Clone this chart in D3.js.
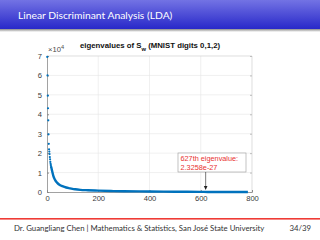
<!DOCTYPE html>
<html>
<head>
<meta charset="utf-8">
<script src="https://cdn.jsdelivr.net/npm/d3@7"></script>
<style>
  body { margin: 0; background: #fff; }
  svg { display: block; }
</style>
</head>
<body>
<svg id="slide" width="320" height="240"></svg>
<script>
// eigenvalue index (1-based) and value (x 1e4)
var eigIndex = [1, 2, 3, 4, 5, 6, 7, 8, 9, 10, 11, 12, 13, 14, 15, 16, 18, 20, 25, 30, 40, 50, 60, 75, 90, 110, 130, 160, 200, 250, 300, 400, 500, 600, 627, 700, 784];
var eigValue = [6.95, 6.0, 4.96, 4.31, 3.69, 2.97, 2.48, 2.2, 2.08, 1.95, 1.8, 1.68, 1.55, 1.45, 1.38, 1.3, 1.2, 1.08, 0.82, 0.66, 0.47, 0.36, 0.3, 0.23, 0.19, 0.14, 0.11, 0.09, 0.07, 0.05, 0.04, 0.025, 0.015, 0.008, 0.0, 0.0, 0.0];
var dotCount = 16; // first few are separate markers, rest merge into a line
var xTicks = [0, 200, 400, 600, 800];
var yTicks = [0, 1, 2, 3, 4, 5, 6, 7];

var svg = d3.select("#slide");

// header bar
var defs = svg.append("defs");
var grad = defs.append("linearGradient").attr("id", "hdr").attr("x1", 0).attr("y1", 0).attr("x2", 0).attr("y2", 1);
grad.append("stop").attr("offset", "0%").attr("stop-color", "#7373e4");
grad.append("stop").attr("offset", "100%").attr("stop-color", "#2828c9");
var shad = defs.append("linearGradient").attr("id", "shad").attr("x1", 0).attr("y1", 0).attr("x2", 0).attr("y2", 1);
shad.append("stop").attr("offset", "0%").attr("stop-color", "#8a8a8a");
shad.append("stop").attr("offset", "100%").attr("stop-color", "#ffffff");

svg.append("rect").attr("x", 0).attr("y", 0).attr("width", 320).attr("height", 29).attr("fill", "url(#hdr)");
svg.append("rect").attr("x", 0).attr("y", 29).attr("width", 320).attr("height", 3).attr("fill", "url(#shad)");
svg.append("text").attr("x", 18).attr("y", 19)
    .attr("font-family", "Lato, 'DejaVu Sans', sans-serif").attr("font-size", 10.3)
    .attr("fill", "#ffffff").text("Linear Discriminant Analysis (LDA)");

// chart
var margin = {left: 47, right: 252, top: 56, bottom: 192};
var x = d3.scaleLinear().domain([0, 800]).range([margin.left, margin.right]);
var y = d3.scaleLinear().domain([0, 7]).range([margin.bottom, margin.top]);

var g = svg.append("g").attr("font-family", "'Liberation Sans', Arial, sans-serif");

// grid
g.selectAll(".gx").data(xTicks.slice(1, -1)).enter().append("line")
    .attr("x1", d => x(d)).attr("x2", d => x(d))
    .attr("y1", margin.top).attr("y2", margin.bottom)
    .attr("stroke", "#e6e6e6").attr("stroke-width", 0.6);
g.selectAll(".gy").data(yTicks.slice(1, -1)).enter().append("line")
    .attr("x1", margin.left).attr("x2", margin.right)
    .attr("y1", d => y(d)).attr("y2", d => y(d))
    .attr("stroke", "#e6e6e6").attr("stroke-width", 0.6);

// box (top/right)
g.append("path")
    .attr("d", "M" + margin.left + "," + margin.top + "H" + margin.right + "V" + margin.bottom)
    .attr("fill", "none").attr("stroke", "#d0d0d0").attr("stroke-width", 0.7);

// axes, ticks pointing inward like matlab
var xAxis = d3.axisBottom(x).tickValues(xTicks).tickSize(-2).tickPadding(4).tickFormat(d3.format("d"));
var yAxis = d3.axisLeft(y).tickValues(yTicks).tickSize(-2).tickPadding(5).tickFormat(d3.format("d"));
var right = g.append("g").attr("transform", "translate(" + margin.right + ",0)")
    .call(d3.axisRight(y).tickValues(yTicks).tickSize(-2).tickFormat(""));
right.select(".domain").remove();
right.selectAll("line").attr("stroke", "#bdbdbd");
var gx = g.append("g").attr("transform", "translate(0," + margin.bottom + ")").call(xAxis);
var gy = g.append("g").attr("transform", "translate(" + margin.left + ",0)").call(yAxis);
[gx, gy].forEach(function(a) {
    a.select(".domain").attr("stroke", "#8a8a8a").attr("stroke-width", 0.8);
    a.selectAll("line").attr("stroke", "#8a8a8a");
    a.selectAll("text").attr("fill", "#3a3a3a").attr("font-size", 7.6).attr("font-family", "'Liberation Sans', Arial, sans-serif");
});

// exponent label
var ex = g.append("text").attr("x", 48).attr("y", 52).attr("font-size", 7.6).attr("fill", "#4a4a4a");
ex.append("tspan").text("\u00d710");
ex.append("tspan").attr("dy", -3).attr("font-size", 5.6).text("4");

// chart title
var t = g.append("text").attr("x", 150).attr("y", 48).attr("text-anchor", "middle")
    .attr("font-size", 7.8).attr("font-weight", "bold").attr("fill", "#111");
t.append("tspan").text("eigenvalues of S");
t.append("tspan").attr("dy", 2.5).attr("font-size", 5.8).text("w");
t.append("tspan").attr("dy", -2.5).text(" (MNIST digits 0,1,2)");

// data
var pts = eigIndex.map((d, i) => [d, eigValue[i]]);
var line = d3.line().x(d => x(d[0])).y(d => y(d[1])).curve(d3.curveMonotoneX);
g.append("path").datum(pts.slice(dotCount - 1))
    .attr("d", line).attr("fill", "none").attr("stroke", "#0072bd").attr("stroke-width", 2.4);
g.selectAll(".dot").data(pts.slice(0, dotCount)).enter().append("circle")
    .attr("cx", d => x(d[0])).attr("cy", d => y(d[1])).attr("r", 1.1).attr("fill", "#0072bd");

// annotation
var bx = 178, by = 153, bw = 68, bh = 19;
g.append("rect").attr("x", bx).attr("y", by).attr("width", bw).attr("height", bh)
    .attr("fill", "#fff").attr("stroke", "#9a9a9a").attr("stroke-width", 0.6);
g.append("text").attr("x", bx + 2.5).attr("y", by + 8).attr("font-size", 7.3).attr("fill", "#e8312f").text("627th eigenvalue:");
g.append("text").attr("x", bx + 2.5).attr("y", by + 16.5).attr("font-size", 7.3).attr("fill", "#e8312f").text("2.3258e-27");
var ax = x(627) - 2;
g.append("line").attr("x1", ax).attr("x2", ax).attr("y1", by + bh).attr("y2", y(0) - 4)
    .attr("stroke", "#222").attr("stroke-width", 0.6);
g.append("path").attr("d", "M" + (ax - 1.8) + "," + (y(0) - 6) + "L" + (ax + 1.8) + "," + (y(0) - 6) + "L" + ax + "," + (y(0) - 2) + "Z")
    .attr("fill", "#222");

// footer
svg.append("rect").attr("x", 0).attr("y", 218).attr("width", 320).attr("height", 1.6).attr("fill", "#ef3b36");
var ft = svg.append("g").attr("font-family", "Lato, 'DejaVu Sans', sans-serif").attr("font-size", 7.8).attr("fill", "#333");
ft.append("text").attr("x", 14).attr("y", 231).text("Dr. Guangliang Chen | Mathematics & Statistics, San Jos\u00e9 State University");
ft.append("text").attr("x", 311).attr("y", 231).attr("text-anchor", "end").text("34/39");
</script>
</body>
</html>
